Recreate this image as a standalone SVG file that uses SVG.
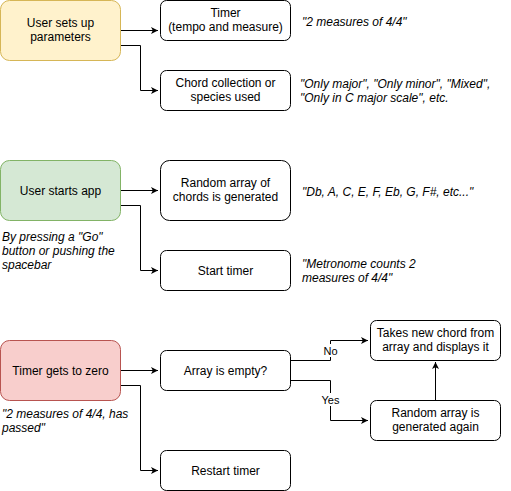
<svg xmlns="http://www.w3.org/2000/svg" width="511" height="491" viewBox="0 0 511 491">
<defs>
<marker id="ah" markerWidth="10" markerHeight="10" refX="7" refY="3.5" orient="auto" markerUnits="userSpaceOnUse" viewBox="0 0 10 7">
<path d="M0,0 L7,3.5 L0,7 L1.8,3.5 Z" fill="#000"/>
</marker>
<style>
.n{fill:#fff;stroke:#000;stroke-width:1}
.t{font-family:"Liberation Sans",Arial,sans-serif;font-size:12px;fill:#000;text-anchor:middle}
.i{font-family:"Liberation Sans",Arial,sans-serif;font-size:12px;fill:#000;font-style:italic}
.c{fill:none;stroke:#000;stroke-width:1}
.l{font-family:"Liberation Sans",Arial,sans-serif;font-size:11px;fill:#000;text-anchor:middle}
</style>
</defs>
<rect width="511" height="491" fill="#fff"/>
<g id="connectors">
<path class="c" d="M120.5,30.5 H158" marker-end="url(#ah)"/>
<path class="c" d="M120.5,45.5 H140.5 V90.5 H158" marker-end="url(#ah)"/>
<path class="c" d="M120.5,190.5 H158" marker-end="url(#ah)"/>
<path class="c" d="M120.5,205.5 H140.5 V270.5 H158" marker-end="url(#ah)"/>
<path class="c" d="M120.5,370.5 H158" marker-end="url(#ah)"/>
<path class="c" d="M120.5,385.5 H140.5 V470.5 H158" marker-end="url(#ah)"/>
<path class="c" d="M290.5,360.5 H330.5 V340.5 H368" marker-end="url(#ah)"/>
<path class="c" d="M290.5,380.5 H330.5 V420.5 H368" marker-end="url(#ah)"/>
<path class="c" d="M435.5,400.5 V362" marker-end="url(#ah)"/>
<rect x="322" y="344" width="17" height="13" fill="#fff"/>
<text class="l" x="330.5" y="354.5">No</text>
<rect x="320" y="393" width="21" height="13" fill="#fff"/>
<text class="l" x="330.5" y="403.5">Yes</text>
</g>
<g id="user-sets-up">
<rect x="0.5" y="0.5" width="120" height="60" rx="9" fill="#fff2cc" stroke="#d6b656"/>
<text class="t" x="60.5" y="26.5">User sets up</text>
<text class="t" x="60.5" y="40.5">parameters</text>
</g>
<g id="timer">
<rect class="n" x="160.5" y="0.5" width="130" height="40" rx="6"/>
<text class="t" x="225.5" y="17">Timer</text>
<text class="t" x="225.5" y="31">(tempo and measure)</text>
</g>
<g id="chord-collection">
<rect class="n" x="160.5" y="70.5" width="130" height="40" rx="6"/>
<text class="t" x="225.5" y="87">Chord collection or</text>
<text class="t" x="225.5" y="101">species used</text>
</g>
<g id="user-starts">
<rect x="0.5" y="160.5" width="120" height="60" rx="9" fill="#d5e8d4" stroke="#82b366"/>
<text class="t" x="60.5" y="194.5">User starts app</text>
</g>
<g id="random-array">
<rect class="n" x="160.5" y="160.5" width="130" height="60" rx="9"/>
<text class="t" x="225.5" y="187">Random array of</text>
<text class="t" x="225.5" y="201">chords is generated</text>
</g>
<g id="start-timer">
<rect class="n" x="160.5" y="250.5" width="130" height="40" rx="6"/>
<text class="t" x="225.5" y="274.5">Start timer</text>
</g>
<g id="timer-zero">
<rect x="0.5" y="340.5" width="120" height="60" rx="9" fill="#f8cecc" stroke="#b85450"/>
<text class="t" x="60.5" y="374.5">Timer gets to zero</text>
</g>
<g id="array-empty">
<rect class="n" x="160.5" y="350.5" width="130" height="40" rx="6"/>
<text class="t" x="225.5" y="374.5">Array is empty?</text>
</g>
<g id="restart-timer">
<rect class="n" x="160.5" y="450.5" width="130" height="40" rx="6"/>
<text class="t" x="225.5" y="474.5">Restart timer</text>
</g>
<g id="takes-new-chord">
<rect class="n" x="370.5" y="320.5" width="130" height="40" rx="6"/>
<text class="t" x="435.5" y="337">Takes new chord from</text>
<text class="t" x="435.5" y="351">array and displays it</text>
</g>
<g id="random-again">
<rect class="n" x="370.5" y="400.5" width="130" height="40" rx="6"/>
<text class="t" x="435.5" y="417">Random array is</text>
<text class="t" x="435.5" y="431">generated again</text>
</g>
<g id="notes">
<text class="i" x="302" y="26">"2 measures of 4/4"</text>
<text class="i" x="300" y="88">"Only major", "Only minor", "Mixed",</text>
<text class="i" x="300" y="102">"Only in C major scale", etc.</text>
<text class="i" x="302" y="196">"Db, A, C, E, F, Eb, G, F#, etc..."</text>
<text class="i" x="302" y="268">"Metronome counts 2</text>
<text class="i" x="302" y="282">measures of 4/4"</text>
<text class="i" x="2" y="241">By pressing a "Go"</text>
<text class="i" x="2" y="255">button or pushing the</text>
<text class="i" x="2" y="269">spacebar</text>
<text class="i" x="2" y="418">"2 measures of 4/4, has</text>
<text class="i" x="2" y="432">passed"</text>
</g>
</svg>
